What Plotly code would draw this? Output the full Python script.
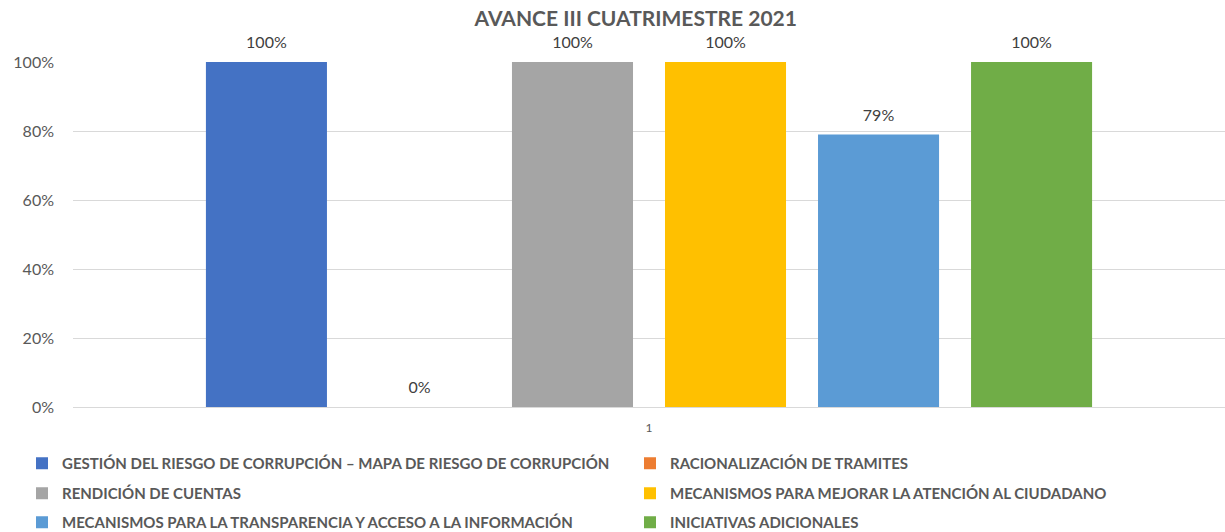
import plotly.graph_objects as go

categories = ["1"]
series_names = [
    "GESTIÓN DEL RIESGO DE CORRUPCIÓN – MAPA DE RIESGO DE CORRUPCIÓN",
    "RACIONALIZACIÓN DE TRAMITES",
    "RENDICIÓN DE CUENTAS",
    "MECANISMOS PARA MEJORAR LA ATENCIÓN AL CIUDADANO",
    "MECANISMOS PARA LA TRANSPARENCIA Y ACCESO A LA INFORMACIÓN",
    "INICIATIVAS ADICIONALES",
]
series_values = [1.00, 0.00, 1.00, 1.00, 0.79, 1.00]
series_colors = ["#4472C4", "#ED7D31", "#A5A5A5", "#FFC000", "#5B9BD5", "#70AD47"]
y_ticks = [0, 0.2, 0.4, 0.6, 0.8, 1.0]
y_tick_labels = ["0%", "20%", "40%", "60%", "80%", "100%"]

FONT = "Lato, Open Sans, sans-serif"

# legend layout: two columns, three rows (container pixel positions)
legend_cols_px = [22, 630]
legend_rows_px = [447, 477, 506]

fig = go.Figure()
legend_ids = []
for i in range(len(series_names)):
    legend_ids.append("legend" if i == 0 else f"legend{i + 1}")

for i, (name, val, col, lg) in enumerate(zip(series_names, series_values, series_colors, legend_ids)):
    fig.add_trace(go.Bar(
        x=categories, y=[val], name=name,
        marker=dict(color=col, line=dict(width=0)),
        offsetgroup=f"g{i}", legend=lg,
    ))
for i, val in enumerate(series_values):
    fig.add_trace(go.Scatter(
        x=categories, y=[val], mode="markers+text",
        text=[f"{val*100:.0f}%"], textposition="top center",
        textfont=dict(size=16, color="#404040", family=FONT),
        marker=dict(size=14, color="rgba(0,0,0,0)"),
        offsetgroup=f"g{i}", showlegend=False, cliponaxis=False,
        hoverinfo="skip",
    ))

legends = {}
for i, lg in enumerate(legend_ids):
    row, colno = divmod(i, 2)
    legends[lg] = dict(
        orientation="h", xanchor="left", yanchor="top",
        xref="container", yref="container",
        x=legend_cols_px[colno] / 1225, y=1 - legend_rows_px[row] / 532,
        font=dict(size=15, color="#595959", family=FONT, weight="bold"),
        bgcolor="rgba(0,0,0,0)",
    )

fig.update_layout(
    width=1225, height=532,
    margin=dict(l=73, r=0, t=62, b=125),
    paper_bgcolor="white", plot_bgcolor="white",
    barmode="group", bargap=0.203, bargroupgap=0.209,
    scattermode="group", scattergap=0.203,
    title=dict(text="<b>AVANCE III CUATRIMESTRE 2021</b>", x=0.519, xanchor="center",
               y=0.965, yanchor="middle",
               font=dict(size=21, color="#595959", family=FONT)),
    xaxis=dict(type="category", showgrid=False, showline=False, ticks="",
               ticklabelstandoff=12,
               tickfont=dict(size=12, color="#595959", family=FONT)),
    yaxis=dict(range=[0, 1], tickvals=y_ticks, ticktext=y_tick_labels,
               showgrid=True, gridcolor="#D9D9D9", gridwidth=1,
               zeroline=True, zerolinecolor="#D9D9D9", zerolinewidth=1,
               showline=False, ticks="", ticklen=0, ticklabelstandoff=18,
               tickfont=dict(size=16, color="#595959", family=FONT)),
    showlegend=True,
    **legends,
)

fig.write_html("out.html")
